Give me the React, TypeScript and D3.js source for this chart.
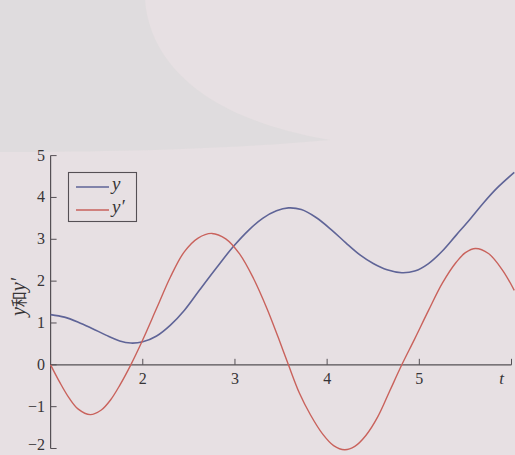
import React from "react";
import * as d3 from "d3";

// Time samples and values of y(t) and its derivative y'(t)
const tY = [1.0, 1.15, 1.3, 1.45, 1.6, 1.75, 1.87, 2.0, 2.15, 2.3, 2.45, 2.62, 2.8, 2.98, 3.15, 3.3, 3.45, 3.58, 3.72, 3.88, 4.05, 4.2, 4.36, 4.5, 4.65, 4.81, 4.95, 5.1, 5.25, 5.4, 5.55, 5.7, 5.85, 6.03];
const yValues = [1.2, 1.14, 1.02, 0.87, 0.71, 0.57, 0.52, 0.55, 0.69, 0.95, 1.3, 1.8, 2.32, 2.82, 3.22, 3.5, 3.68, 3.75, 3.71, 3.52, 3.22, 2.92, 2.62, 2.42, 2.27, 2.2, 2.24, 2.42, 2.72, 3.1, 3.48, 3.88, 4.24, 4.6];

const tDy = [1.0, 1.1, 1.2, 1.3, 1.43, 1.55, 1.65, 1.75, 1.87, 2.0, 2.15, 2.3, 2.45, 2.6, 2.75, 2.9, 3.05, 3.2, 3.35, 3.47, 3.58, 3.7, 3.82, 3.95, 4.07, 4.19, 4.3, 4.42, 4.55, 4.68, 4.81, 4.95, 5.1, 5.25, 5.4, 5.5, 5.61, 5.75, 5.9, 6.03];
const dyValues = [0.0, -0.42, -0.79, -1.06, -1.19, -1.08, -0.84, -0.49, 0.0, 0.6, 1.35, 2.1, 2.7, 3.03, 3.14, 3.01, 2.65, 2.07, 1.33, 0.65, 0.0, -0.68, -1.2, -1.65, -1.93, -2.03, -1.95, -1.69, -1.24, -0.62, 0.0, 0.62, 1.3, 1.95, 2.45, 2.68, 2.78, 2.66, 2.27, 1.78];

const xTicks = [2, 3, 4, 5];
const xTickMarks = [2, 3, 4, 5, 6];
const yTicks = [-2, -1, 0, 1, 2, 3, 4, 5];

const W = 515;
const H = 455;

export default function App() {
  const x = d3.scaleLinear().domain([1, 6]).range([50.6, 511.5]);
  const y = d3.scaleLinear().domain([-2, 5]).range([448.5, 155.6]);

  const line = d3
    .line<[number, number]>()
    .x((d) => x(d[0]))
    .y((d) => y(d[1]))
    .curve(d3.curveCatmullRom.alpha(0.5));

  const yPath = line(tY.map((t, i) => [t, yValues[i]]) as [number, number][]) || "";
  const dyPath = line(tDy.map((t, i) => [t, dyValues[i]]) as [number, number][]) || "";

  const axis = "#555055";
  const ink = "#383537";
  const blue = "#5f6497";
  const red = "#c9625c";
  const serif = '"Liberation Serif", "Times New Roman", "DejaVu Serif", serif';
  const txt = (extra: React.CSSProperties = {}): React.CSSProperties => ({
    fontFamily: serif,
    fontSize: 16,
    fill: ink,
    ...extra,
  });

  return (
    <svg
      width={W}
      height={H}
      viewBox={`0 0 ${W} ${H}`}
      style={{ position: "absolute", left: 0, top: 0, display: "block" }}
    >
      <rect x={0} y={0} width={W} height={H} fill="#e7e0e3" />
      <path
        d="M0,0 L145,0 C150,60 200,118 330,140 C220,150 90,152 0,152 Z"
        fill="#dddbdc"
        opacity={0.8}
      />

      {/* axes */}
      <line x1={x(1)} x2={x(6)} y1={y(0)} y2={y(0)} stroke={axis} strokeWidth={1.2} />
      <line x1={x(1)} x2={x(1)} y1={y(5)} y2={y(-2)} stroke={axis} strokeWidth={1.2} />

      {xTickMarks.map((t) => (
        <line key={`xt${t}`} x1={x(t)} x2={x(t)} y1={y(0)} y2={y(0) - 6} stroke={axis} strokeWidth={1} />
      ))}
      {yTicks.map((v) => (
        <line key={`yt${v}`} x1={x(1)} x2={x(1) + 6} y1={y(v)} y2={y(v)} stroke={axis} strokeWidth={1} />
      ))}

      {xTicks.map((t) => (
        <text key={`xl${t}`} x={x(t)} y={y(0) + 19} textAnchor="middle" style={txt()}>
          {t}
        </text>
      ))}
      <text x={x(6) - 10} y={y(0) + 19} textAnchor="middle" style={txt({ fontStyle: "italic", fontSize: 17 })}>
        t
      </text>

      {yTicks.map((v) => (
        <text key={`yl${v}`} x={45} y={Math.min(y(v) + 5, 450)} textAnchor="end" style={txt()}>
          {v < 0 ? `\u2212${Math.abs(v)}` : v}
        </text>
      ))}

      <text transform={`translate(25,${297}) rotate(-90)`} textAnchor="middle" style={txt({ fontSize: 20 })}>
        <tspan style={{ fontStyle: "italic" }}>y</tspan>
        <tspan style={{ fontFamily: '"Noto Sans CJK SC", sans-serif', fontSize: 16 }}>和</tspan>
        <tspan style={{ fontStyle: "italic" }}>y′</tspan>
      </text>

      {/* curves */}
      <path d={yPath} fill="none" stroke={blue} strokeWidth={1.6} />
      <path d={dyPath} fill="none" stroke={red} strokeWidth={1.4} />

      {/* legend */}
      <rect x={68.5} y={172.5} width={68} height={49} fill="none" stroke={axis} strokeWidth={1.1} />
      <line x1={76} x2={109} y1={187} y2={187} stroke={blue} strokeWidth={1.6} />
      <line x1={76} x2={109} y1={210} y2={210} stroke={red} strokeWidth={1.4} />
      <text x={112} y={190} style={txt({ fontStyle: "italic", fontSize: 19 })}>
        y
      </text>
      <text x={112} y={213} style={txt({ fontStyle: "italic", fontSize: 19 })}>
        y′
      </text>
    </svg>
  );
}
